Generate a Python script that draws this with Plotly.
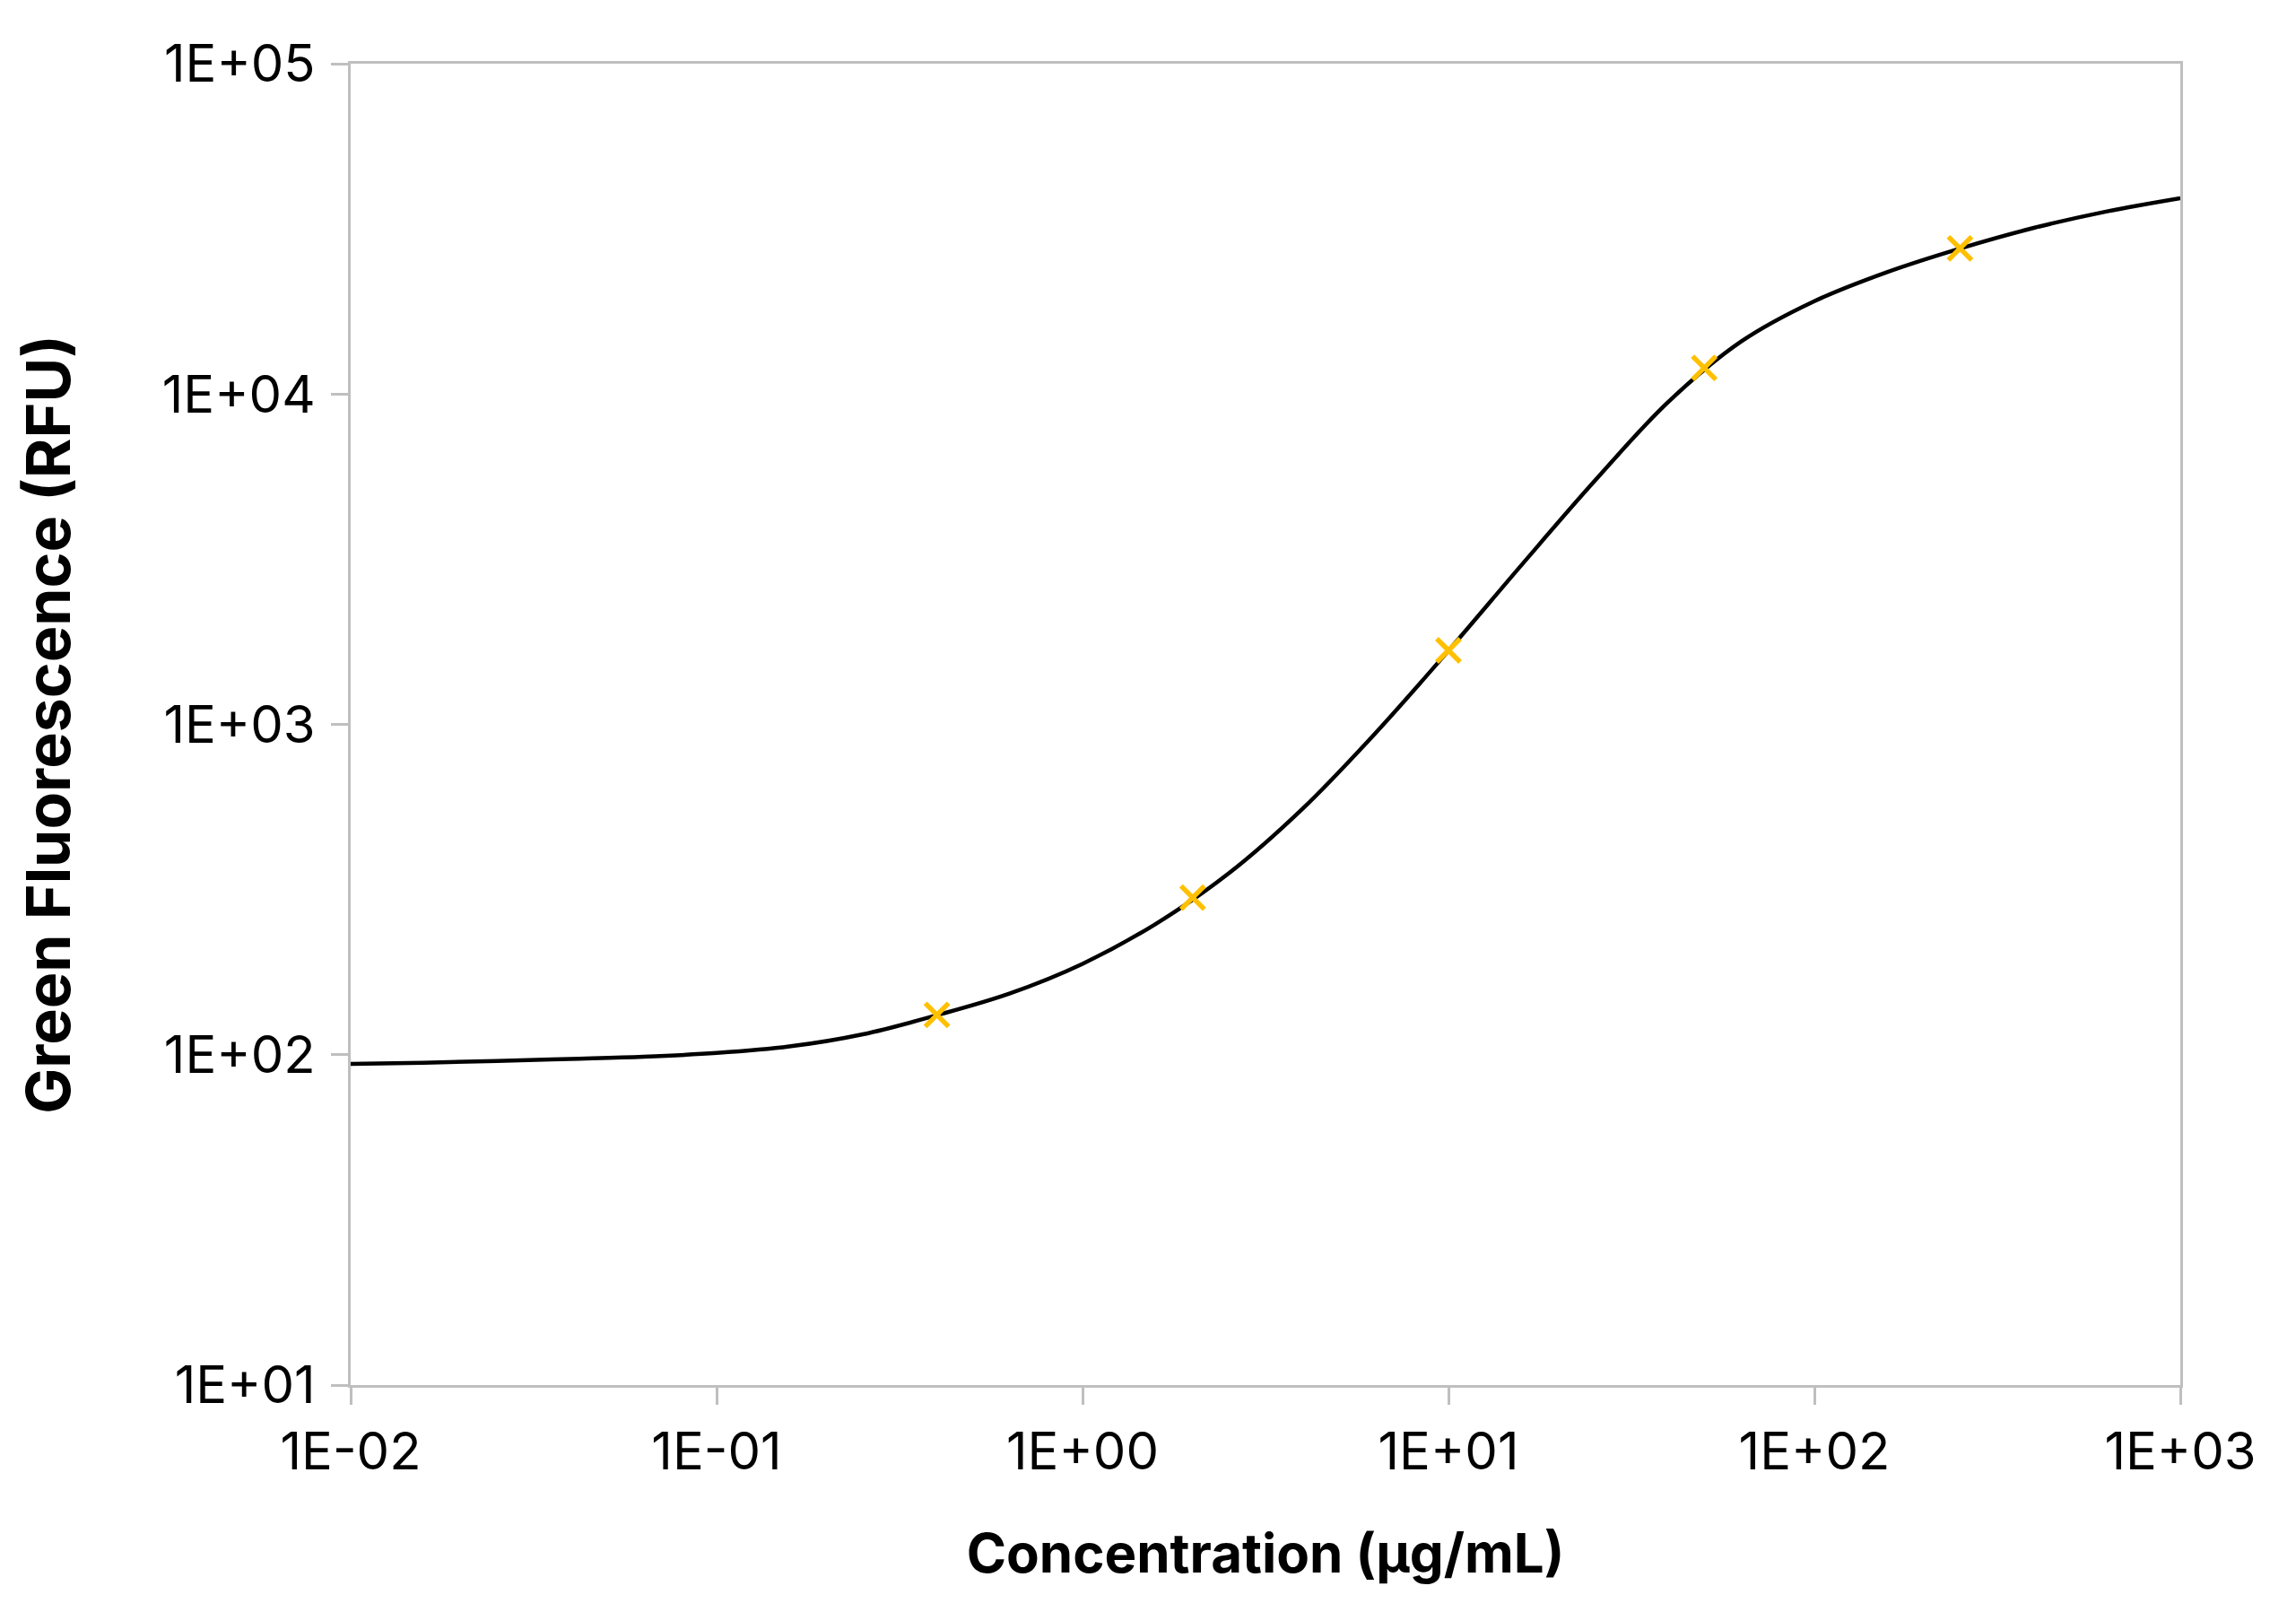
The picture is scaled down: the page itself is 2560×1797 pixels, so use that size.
import plotly.graph_objects as go

# Measured standards (yellow crosses)
conc_points = [0.4, 2, 10, 50, 250]
rfu_points = [132, 299, 1675, 12000, 27600]

# Fitted curve, values
curve_conc = [0.01, 0.0158, 0.0251, 0.0398, 0.0631, 0.1, 0.158, 0.251, 0.398, 0.631,
              1, 1.58, 2.51, 3.98, 6.31, 10, 15.8, 25.1, 39.8, 63.1,
              100, 158, 251, 398, 631, 1000]
curve_rfu = [93.8, 94.6, 95.7, 97.1, 98.6, 101.2, 105.9, 115.3, 131.5, 153.1,
             188.4, 248.3, 354.0, 553.4, 939.7, 1671, 3027, 5458, 9441, 14420,
             19100, 23390, 27610, 31840, 35730, 39170]

x_tickvals = [0.01, 0.1, 1, 10, 100, 1000]
x_ticktext = ["1E-02", "1E-01", "1E+00", "1E+01", "1E+02", "1E+03"]
y_tickvals = [10, 100, 1000, 10000, 100000]
y_ticktext = ["1E+01", "1E+02", "1E+03", "1E+04", "1E+05"]

x_title = "Concentration (µg/mL)"
y_title = "Green Fluorescence (RFU)"

FONT = "Inter"
AXIS_GREY = "#BFBFBF"

fig = go.Figure()
fig.add_trace(go.Scatter(
    x=curve_conc, y=curve_rfu, mode="lines",
    line=dict(color="black", width=4.5, shape="spline", smoothing=1.0),
    showlegend=False, hoverinfo="skip",
))
fig.add_trace(go.Scatter(
    x=conc_points, y=rfu_points, mode="markers",
    marker=dict(symbol="x-thin", size=26, color="#FFC000",
                line=dict(color="#FFC000", width=5.5)),
    showlegend=False,
))

fig.update_layout(
    width=2560, height=1797,
    margin=dict(l=383, r=137, t=63, b=261),
    paper_bgcolor="white", plot_bgcolor="white",
    font=dict(family=FONT, color="black", size=58),
)
fig.update_xaxes(
    type="log", range=[-2, 3],
    tickvals=x_tickvals, ticktext=x_ticktext,
    showgrid=False, zeroline=False,
    showline=True, linecolor=AXIS_GREY, linewidth=2.5, mirror=True,
    ticks="outside", ticklen=19, tickwidth=2.5, tickcolor=AXIS_GREY,
    ticklabelstandoff=3,
    tickfont=dict(family=FONT, size=58, color="black"),
    title=dict(text=x_title, standoff=60,
               font=dict(family=FONT, size=60, color="black", weight="bold")),
)
fig.update_yaxes(
    type="log", range=[1, 5],
    tickvals=y_tickvals, ticktext=y_ticktext,
    showgrid=False, zeroline=False,
    showline=True, linecolor=AXIS_GREY, linewidth=2.5, mirror=True,
    ticks="outside", ticklen=19, tickwidth=2.5, tickcolor=AXIS_GREY,
    ticklabelstandoff=6,
    tickfont=dict(family=FONT, size=58, color="black"),
    title=dict(text=y_title, standoff=80,
               font=dict(family=FONT, size=68, color="black", weight="bold")),
)

fig.write_html("out.html")
